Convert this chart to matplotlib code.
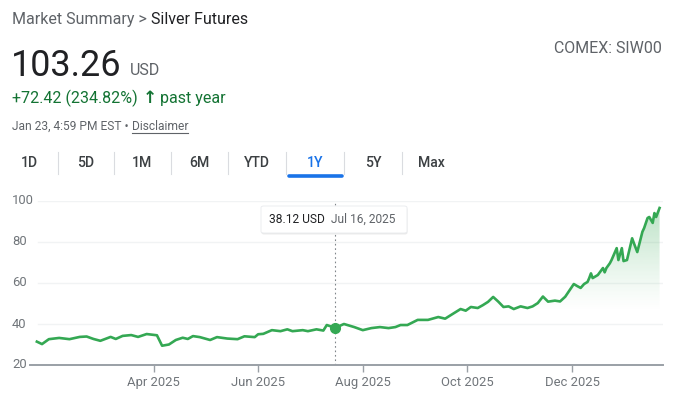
import matplotlib
matplotlib.use("Agg")
import matplotlib.pyplot as plt
import matplotlib.dates as mdates
import numpy as np
import pandas as pd
from matplotlib.patches import FancyBboxPatch, Polygon

plt.rcParams['font.family'] = ['Roboto', 'DejaVu Sans']

# ---------------- data ----------------
dates = [
    "2025-01-23", "2025-01-26", "2025-01-30", "2025-02-05", "2025-02-11", "2025-02-17",
    "2025-02-21", "2025-02-25", "2025-03-01", "2025-03-07", "2025-03-10", "2025-03-14",
    "2025-03-19", "2025-03-23", "2025-03-28", "2025-04-03", "2025-04-06", "2025-04-10",
    "2025-04-14", "2025-04-18", "2025-04-21", "2025-04-24", "2025-04-28", "2025-05-04",
    "2025-05-08", "2025-05-14", "2025-05-20", "2025-05-24", "2025-05-30", "2025-06-01",
    "2025-06-04", "2025-06-09", "2025-06-14", "2025-06-18", "2025-06-21", "2025-06-27",
    "2025-06-30", "2025-07-05", "2025-07-09", "2025-07-11", "2025-07-16", "2025-07-21",
    "2025-07-27", "2025-08-01", "2025-08-06", "2025-08-11", "2025-08-16", "2025-08-20",
    "2025-08-23", "2025-08-27", "2025-09-02", "2025-09-08", "2025-09-14", "2025-09-18",
    "2025-09-22", "2025-09-27", "2025-09-30", "2025-10-03", "2025-10-07", "2025-10-10",
    "2025-10-13", "2025-10-16", "2025-10-19", "2025-10-22", "2025-10-25", "2025-10-28",
    "2025-11-01", "2025-11-05", "2025-11-08", "2025-11-11", "2025-11-14", "2025-11-17",
    "2025-11-21", "2025-11-24", "2025-11-27", "2025-12-02", "2025-12-04", "2025-12-06",
    "2025-12-08", "2025-12-10", "2025-12-11", "2025-12-12", "2025-12-13", "2025-12-16",
    "2025-12-19", "2025-12-20", "2025-12-21", "2025-12-23", "2025-12-24", "2025-12-27",
    "2025-12-28", "2025-12-30", "2025-12-31", "2026-01-02", "2026-01-05", "2026-01-06",
    "2026-01-08", "2026-01-11", "2026-01-12", "2026-01-14", "2026-01-15", "2026-01-17",
    "2026-01-18", "2026-01-19", "2026-01-21",
]
prices = [
    31.4, 30.2, 32.6, 33.2, 32.6, 33.7,
    33.9, 32.7, 31.8, 33.7, 32.7, 34.2,
    34.6, 33.7, 35.1, 34.5, 29.4, 30.0,
    32.2, 33.3, 32.7, 34.1, 33.6, 32.2,
    33.6, 32.9, 32.6, 34.0, 33.6, 35.0,
    35.2, 37.0, 36.5, 37.4, 36.5, 37.0,
    36.5, 37.4, 36.8, 39.5, 38.12, 40.0,
    38.5, 37.0, 38.0, 38.5, 38.0, 38.5,
    39.5, 39.5, 42.0, 42.0, 43.4, 42.6,
    44.7, 47.3, 46.5, 48.3, 47.8, 49.2,
    50.8, 53.2, 50.9, 48.3, 48.6, 47.3,
    48.6, 47.8, 48.6, 50.2, 53.4, 50.9,
    51.4, 51.0, 53.3, 59.5, 58.5, 57.6,
    59.5, 60.5, 62.4, 64.7, 62.4, 63.9,
    67.3, 65.2, 67.3, 69.6, 71.2, 77.0,
    71.2, 77.0, 70.7, 71.2, 81.8, 79.5,
    75.1, 85.0, 86.8, 91.7, 92.2, 89.3,
    94.1, 92.2, 96.6,
]
x_ticks = ["2025-04-01", "2025-06-01", "2025-08-01", "2025-10-01", "2025-12-01"]
x_tick_labels = ["Apr 2025", "Jun 2025", "Aug 2025", "Oct 2025", "Dec 2025"]
y_ticks = [20, 40, 60, 80, 100]
tabs = ["1D", "5D", "1M", "6M", "YTD", "1Y", "5Y", "Max"]
hover_date = "2025-07-16"
hover_value = 38.12

# ---------------- figure ----------------
W, H = 673, 403
fig = plt.figure(figsize=(W / 100, H / 100), dpi=100)
fig.patch.set_facecolor("white")

def fx(px):
    return px / W

def fy(py):
    return 1 - py / H

def pt(px):
    return px * 0.72

GREEN = "#34a853"
TEXT_GREEN = "#137333"
GRAY = "#5f6368"
DARK = "#202124"

# header
t1 = fig.text(fx(12), fy(24), "Market Summary > ", fontsize=pt(16), color=GRAY, va="baseline")
fig.canvas.draw()
bb = t1.get_window_extent()
fig.text(bb.x1 / W, fy(24), "Silver Futures", fontsize=pt(16), color=DARK, va="baseline")

tp = fig.text(fx(11), fy(76), "103.26", fontsize=pt(36), color=DARK, va="baseline")
fig.canvas.draw()
bb = tp.get_window_extent()
fig.text(bb.x1 / W + fx(8), fy(75), "USD", fontsize=pt(16), color=GRAY, va="baseline")

tc = fig.text(fx(12), fy(103), "+72.42 (234.82%)", fontsize=pt(16), color=TEXT_GREEN, va="baseline")
fig.canvas.draw()
bb = tc.get_window_extent()
ta = fig.text(bb.x1 / W + fx(5), fy(103), "\u2191", fontsize=pt(17), color=TEXT_GREEN,
              va="baseline", fontweight="bold", family=["DejaVu Sans"])
fig.canvas.draw()
bb = ta.get_window_extent()
fig.text(bb.x1 / W + fx(3), fy(103), "past year", fontsize=pt(16), color=TEXT_GREEN, va="baseline")

td = fig.text(fx(12), fy(130), "Jan 23, 4:59 PM EST \u2022 ", fontsize=pt(12), color=GRAY, va="baseline")
fig.canvas.draw()
bb = td.get_window_extent()
tdis = fig.text(bb.x1 / W, fy(130), "Disclaimer", fontsize=pt(12), color=GRAY, va="baseline")
fig.canvas.draw()
bb2 = tdis.get_window_extent()
fig.add_artist(plt.Line2D([bb2.x0 / W, bb2.x1 / W], [fy(132.5), fy(132.5)], color=GRAY, lw=0.8))

fig.text(fx(662), fy(53), "COMEX: SIW00", fontsize=pt(16), color=GRAY, va="baseline", ha="right")

# tabs
tab_centers = [29, 86, 142, 199, 257, 315, 373, 431]
for i, (lab, cx) in enumerate(zip(tabs, tab_centers)):
    col = "#1a73e8" if lab == "1Y" else "#3c4043"
    fig.text(fx(cx), fy(163), lab, fontsize=pt(14), color=col, ha="center", va="center",
             fontweight="medium")
    if i < len(tabs) - 1:
        sx = (cx + tab_centers[i + 1]) / 2
        fig.add_artist(plt.Line2D([fx(sx), fx(sx)], [fy(152), fy(174)], color="#dadce0", lw=0.8))
fig.add_artist(plt.Line2D([fx(289), fx(342)], [fy(175.5), fy(175.5)], color="#1a73e8",
                          lw=2.6, solid_capstyle="round"))

# ---------------- chart ----------------
ax = fig.add_axes([fx(30), fy(365), fx(663) - fx(30), (365 - 201) / H])
ax.set_facecolor("none")
dts = pd.to_datetime(dates)
xn = mdates.date2num(dts)
vals = np.array(prices)

ax.set_xlim(mdates.date2num(pd.Timestamp("2025-01-19")), mdates.date2num(pd.Timestamp("2026-01-23")))
ax.set_ylim(20, 100)

# gradient fill under line
grad = np.linspace(0, 1, 256).reshape(-1, 1)
vgrid = 20 + grad * 80
alpha = np.clip((vgrid - 46) / 54, 0, 1) ** 1.2 * 0.36
rgba = np.zeros((256, 1, 4))
rgba[..., 0] = 0x34 / 255
rgba[..., 1] = 0xa8 / 255
rgba[..., 2] = 0x53 / 255
rgba[..., 3] = alpha
x0, x1 = ax.get_xlim()
im = ax.imshow(rgba, aspect="auto", extent=[x0, x1, 20, 100], origin="lower", zorder=1,
               interpolation="bilinear")
poly = Polygon(np.column_stack([np.r_[xn[0], xn, xn[-1]], np.r_[20, vals, 20]]),
               closed=True, facecolor="none", edgecolor="none", transform=ax.transData)
ax.add_patch(poly)
im.set_clip_path(poly)

for yv in y_ticks[1:]:
    ax.axhline(yv, color="#f1f3f4", lw=1, zorder=0.5, xmin=0.012)

ax.plot(xn, vals, color=GREEN, lw=1.9, zorder=3, solid_joinstyle="round")

# hover
hx = mdates.date2num(pd.Timestamp(hover_date))
ax.axvline(hx, color="#80868b", lw=0.8, ls=(0, (1.5, 2.5)), zorder=2, ymax=1.0)
ax.plot([hx], [hover_value], "o", color=GREEN, ms=7, zorder=4)

for s in ["top", "right", "left"]:
    ax.spines[s].set_visible(False)
ax.spines["bottom"].set_color("#9aa0a6")
ax.spines["bottom"].set_linewidth(1.4)

ax.set_xticks(mdates.date2num(pd.to_datetime(x_ticks)))
ax.set_xticklabels(x_tick_labels, fontsize=pt(13), color="#70757a")
ax.tick_params(axis="x", length=5, width=1, color="#9aa0a6", pad=3)
ax.set_yticks([])
for yv in y_ticks:
    ax.text(fx(12) , yv, str(yv), transform=matplotlib.transforms.blended_transform_factory(fig.transFigure, ax.transData),
            fontsize=pt(13), color="#70757a", ha="left", va="center")

# tooltip box
bx0, bx1, by0, by1 = 261, 407, 206, 233
shadow = FancyBboxPatch((fx(bx0 + 0.5), fy(by1 + 1.5)), fx(bx1) - fx(bx0), (by1 - by0) / H,
                        boxstyle="round,pad=0,rounding_size=0.004", transform=fig.transFigure,
                        facecolor="#000000", alpha=0.08, edgecolor="none", zorder=9)
fig.add_artist(shadow)
box = FancyBboxPatch((fx(bx0), fy(by1)), fx(bx1) - fx(bx0), (by1 - by0) / H,
                     boxstyle="round,pad=0,rounding_size=0.004", transform=fig.transFigure,
                     facecolor="white", edgecolor="#e8eaed", lw=0.6, zorder=10)
fig.add_artist(box)
tt = fig.text(fx(269), fy(219.5), f"{hover_value:.2f} USD", fontsize=pt(12), color=DARK,
              va="center", zorder=11)
fig.canvas.draw()
bb = tt.get_window_extent()
fig.text(bb.x1 / W + fx(6), fy(219.5), pd.Timestamp(hover_date).strftime("%b %-d, %Y"),
         fontsize=pt(12), color=GRAY, va="center", zorder=11)

fig.savefig("out.png", dpi=100, facecolor="white")
